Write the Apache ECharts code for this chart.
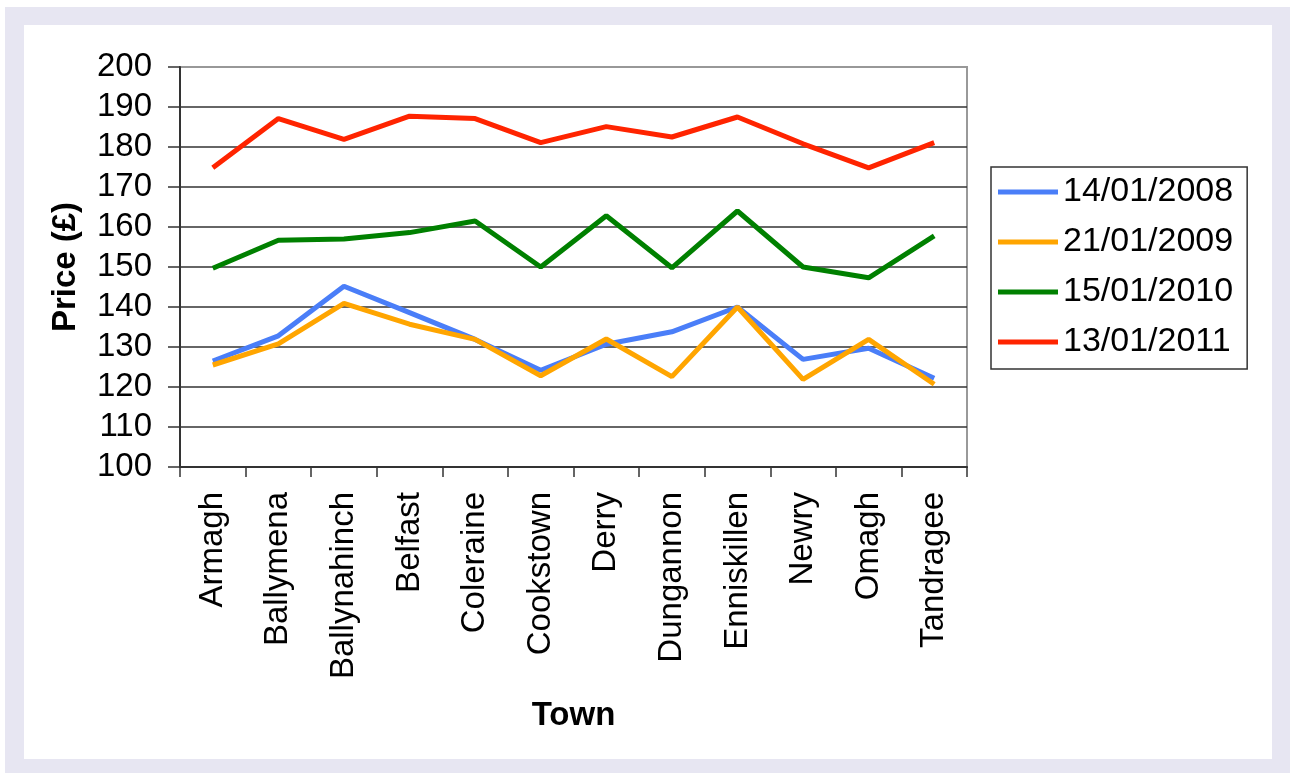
<!DOCTYPE html>
<html>
<head>
<meta charset="utf-8">
<script src="https://cdn.jsdelivr.net/npm/echarts@6/dist/echarts.min.js"></script>
<style>
html,body{margin:0;padding:0;background:#fff;}
#chart{width:1290px;height:773px;}
</style>
</head>
<body>
<div id="chart"></div>
<script>
const categories = ['Armagh','Ballymena','Ballynahinch','Belfast','Coleraine','Cookstown','Derry','Dungannon','Enniskillen','Newry','Omagh','Tandragee'];
const yTicks = { min: 100, max: 200, interval: 10 };
const seriesNames = ['14/01/2008','21/01/2009','15/01/2010','13/01/2011'];
const s2008 = [126.5, 132.8, 145.2, 138.6, 131.9, 124.2, 130.7, 133.8, 140.0, 126.9, 129.7, 122.2];
const s2009 = [125.5, 130.8, 140.9, 135.7, 131.9, 122.8, 132.0, 122.6, 140.0, 121.9, 131.9, 120.7];
const s2010 = [149.7, 156.7, 157.0, 158.6, 161.5, 150.0, 162.8, 149.8, 164.0, 150.0, 147.3, 157.8];
const s2011 = [174.8, 187.1, 181.9, 187.7, 187.1, 181.1, 185.1, 182.5, 187.5, 180.8, 174.8, 181.1];
const seriesColors = ['#4a7ef8', '#ffa500', '#008000', '#ff2400'];

const FONT = '"Liberation Sans", Arial, sans-serif';
const allData = [s2008, s2009, s2010, s2011];

const chart = echarts.init(document.getElementById('chart'), null, {renderer: 'canvas'});
const splitColors = [];
for (let v = yTicks.min; v <= yTicks.max; v += yTicks.interval) {
  splitColors.push(v === yTicks.max ? '#999999' : '#333333');
}

chart.setOption({
  backgroundColor: '#ffffff',
  animation: false,
  graphic: [
    {type: 'rect', z: -100, silent: true, shape: {x: 5, y: 7, width: 1290, height: 773}, style: {fill: '#e7e6f2'}},
    {type: 'rect', z: -99, silent: true, shape: {x: 24, y: 25, width: 1248, height: 734}, style: {fill: '#ffffff'}}
  ],
  grid: {
    left: 180, right: 323, top: 67, bottom: 306,
    show: true, borderColor: '#999999', borderWidth: 2, backgroundColor: 'transparent'
  },
  legend: {
    orient: 'vertical',
    left: 991, top: 167,
    padding: [5, 14, 7, 7],
    borderColor: '#333', borderWidth: 1.5,
    icon: 'rect', itemWidth: 60, itemHeight: 5, itemGap: 10, itemTextGap: 7,
    textStyle: {fontFamily: FONT, fontSize: 34, color: '#000', lineHeight: 40},
    data: seriesNames
  },
  xAxis: {
    type: 'category',
    data: categories,
    boundaryGap: true,
    name: 'Town',
    nameLocation: 'middle',
    nameGap: 232,
    nameTextStyle: {fontFamily: FONT, fontSize: 33, fontWeight: 'bold', color: '#000'},
    axisLine: {show: true, lineStyle: {color: '#333', width: 2}},
    axisTick: {show: true, length: 10, interval: 0, lineStyle: {color: '#333', width: 1.5}},
    axisLabel: {rotate: 90, interval: 0, margin: 25, fontFamily: FONT, fontSize: 33, color: '#000'},
    splitLine: {show: false}
  },
  yAxis: {
    type: 'value',
    min: yTicks.min, max: yTicks.max, interval: yTicks.interval,
    name: 'Price (£)',
    nameLocation: 'middle',
    nameRotate: 90,
    nameGap: 98,
    nameTextStyle: {fontFamily: FONT, fontSize: 33, fontWeight: 'bold', color: '#000'},
    axisLine: {show: true, lineStyle: {color: '#333', width: 2}},
    axisTick: {show: true, length: 12, lineStyle: {color: '#333', width: 1.5}},
    axisLabel: {margin: 28, fontFamily: FONT, fontSize: 33, color: '#000'},
    splitLine: {show: true, lineStyle: {color: splitColors, width: 1.5}}
  },
  series: seriesNames.map((n, i) => ({
    name: n,
    type: 'line',
    data: allData[i],
    symbol: 'none',
    showSymbol: false,
    color: seriesColors[i],
    lineStyle: {width: 5, color: seriesColors[i]},
    itemStyle: {color: seriesColors[i]}
  }))
});
</script>
</body>
</html>
